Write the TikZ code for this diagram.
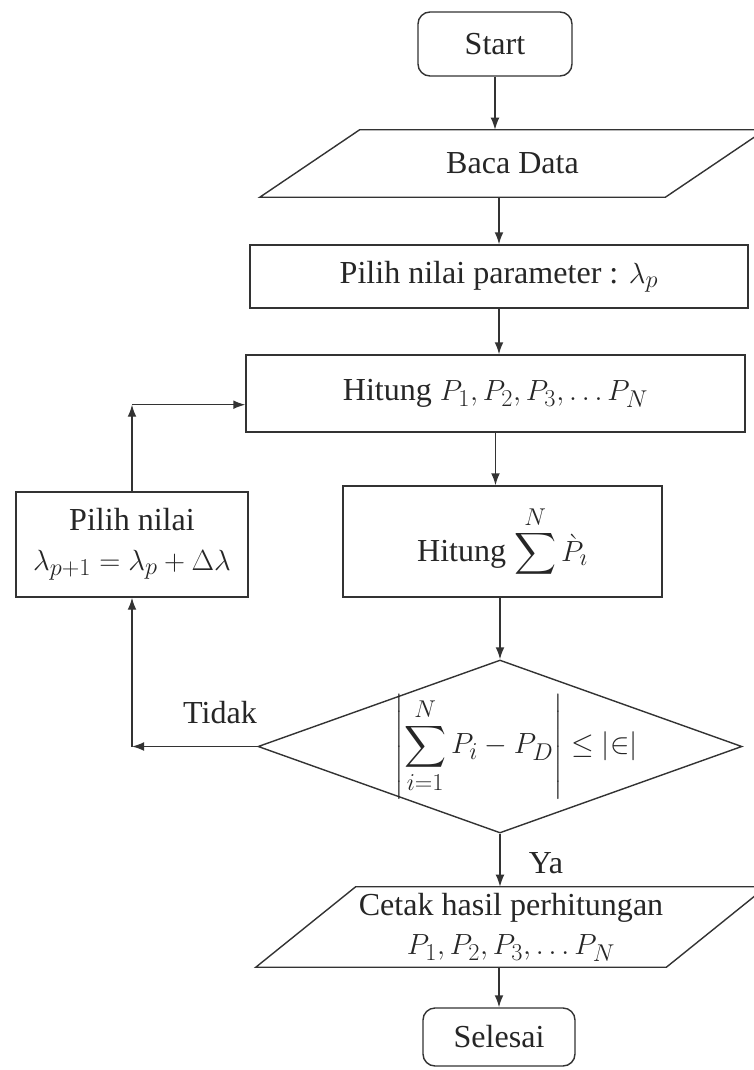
\documentclass[tikz,border=0pt]{standalone}
\usepackage{fontspec}
\usepackage{amsmath}
\setmainfont{Liberation Serif}
\usetikzlibrary{shapes.geometric,arrows.meta}

\begin{document}
\begin{tikzpicture}[
    every node/.style={font=\fontsize{22.8}{28}\selectfont, text=black!85},
    proses/.style={rectangle, draw=black!80, line width=1pt, align=center, inner sep=2pt},
    terminal/.style={proses, rounded corners=0.3cm},
    datenbox/.style={rectangle, align=center, inner sep=2pt},
    keputusan/.style={diamond, draw=black!80, line width=1pt, inner sep=0pt},
    panah/.style={-{Latex[length=0.3cm,width=0.22cm]}, draw=black!80, line width=1pt}
]
    \def\jajargenjang#1{
    \draw[draw=black!80, line width=1pt] ([xshift=-1.25cm]#1.south west) -- ([xshift=-1.25cm]#1.south east)
        -- ([xshift=1.25cm]#1.north east) -- ([xshift=1.25cm]#1.north west) -- cycle;
    }

    \useasboundingbox (0,0) rectangle (18.85,-26.75);

    \node[terminal, minimum width=3.85cm, minimum height=1.6cm] (start) at (12.375,-1.1) {Start};
    \node[datenbox, minimum width=10.125cm, minimum height=1.675cm] (baca) at (12.8125,-4.0875) {Baca Data};
    \node[proses, minimum width=12.45cm, minimum height=1.575cm] (pilih) at (12.475,-6.9125) {Pilih nilai parameter : $\lambda_p$};
    \node[proses, minimum width=12.475cm, minimum height=1.925cm] (hitP) at (12.3875,-9.8375) {Hitung $P_1, P_2, P_3, \ldots P_N$};
    \node[proses, minimum width=7.975cm, minimum height=2.775cm] (hitS) at (12.5625,-13.5375) {Hitung $\displaystyle\sum^{N}\grave{P}_{\imath}$};
    \node[proses, minimum width=5.8cm, minimum height=2.625cm] (lam) at (3.3,-13.6125) {Pilih nilai\\ $\lambda_{p+1} = \lambda_p + \Delta\lambda$};
    \node[keputusan, minimum width=12.1cm, minimum height=4.325cm] (cek) at (12.5,-18.6625) {};
    \node (cekteks) at ([xshift=0.4cm]cek.center) {$\displaystyle\left|\sum_{i=1}^{N} P_i - P_D\right| \leq |{\in}|$};
    \node[datenbox, minimum width=10.25cm, minimum height=2cm] (cetak) at (12.775,-23.175) {Cetak hasil perhitungan\\ $P_1, P_2, P_3, \ldots P_N$};
    \node[terminal, minimum width=3.8cm, minimum height=1.45cm] (selesai) at (12.475,-25.925) {Selesai};
    \node (tidak) at (5.5,-17.825) {Tidak};
    \node (ya) at (13.65,-21.575) {Ya};

    \jajargenjang{baca}
    \jajargenjang{cetak}

    \coordinate (c1) at (cek.west -| lam.south);
    \path (lam.north |- hitP.west) ++(0,-0.28) coordinate (c2);

    \draw[panah] (start) -- (start |- baca.north);
    \draw[panah] (pilih |- baca.south) -- (pilih.north);
    \draw[panah] (pilih) -- (pilih.south |- hitP.north);
    \draw[panah] (hitP) -- (hitP.south |- hitS.north);
    \draw[panah] (cek |- hitS.south) -- (cek.north);
    \draw[panah] (cek.west) -- (c1);
    \draw[panah] (c1) -- (lam.south);
    \draw[panah] (lam.north) -- (c2);
    \draw[panah] (c2) -- (c2 -| hitP.west);
    \draw[panah] (cek.south) -- (cek.south |- cetak.north);
    \draw[panah] (selesai |- cetak.south) -- (selesai.north);

\end{tikzpicture}
\end{document}
